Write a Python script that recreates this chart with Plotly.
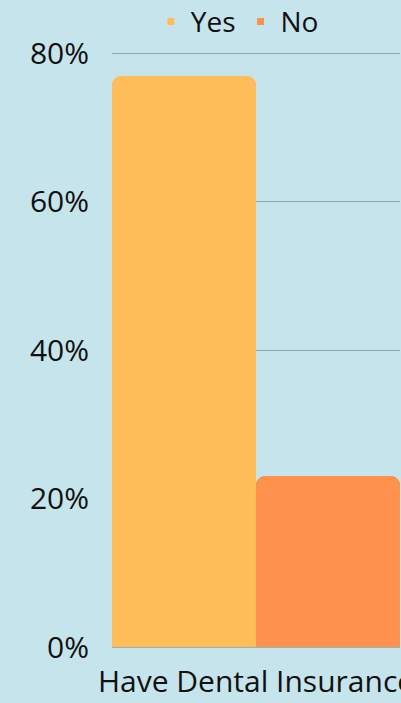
import plotly.graph_objects as go

categories = ["Have Dental Insurance"]
series_names = ["Yes", "No"]
yes_values = [77]
no_values = [23]
colors = ["#FFBD59", "#FF914D"]
y_tickvals = [0, 20, 40, 60, 80]
y_ticktext = ["0%", "20%", "40%", "60%", "80%"]

FONT = "Open Sans"
fig = go.Figure()
for name, vals, col in zip(series_names, [yes_values, no_values], colors):
    fig.add_trace(go.Bar(x=categories, y=vals, name=name, marker_color=col,
                         marker_line_width=0, showlegend=False))
    fig.add_trace(go.Scatter(x=[None], y=[None], mode="markers", name=name,
                             marker=dict(symbol="square", size=7, color=col)))

fig.update_layout(
    width=401, height=703,
    paper_bgcolor="#C6E4EC", plot_bgcolor="#C6E4EC",
    margin=dict(l=112, r=1, t=46, b=56, autoexpand=False),
    barmode="group", bargap=0, bargroupgap=0, barcornerradius=9,
    font=dict(family=FONT, color="#111111", size=30),
    legend=dict(orientation="h", x=0.435, xanchor="center", y=0.969, yanchor="middle",
                yref="container", font=dict(size=28),
                bgcolor="rgba(0,0,0,0)", traceorder="normal"),
    xaxis=dict(showgrid=False, showline=True, linecolor="#9DAFB3", linewidth=1,
               ticks="", tickfont=dict(size=30), ticklabelstandoff=8, automargin=False),
    yaxis=dict(range=[0, 81], tickvals=y_tickvals, ticktext=y_ticktext,
               showgrid=True, gridcolor="#8FA8AF", gridwidth=1, zeroline=False,
               ticks="", ticklabelstandoff=22, tickfont=dict(size=30), automargin=False),
)
fig.write_html("out.html", config={"displayModeBar": False},
               post_script="document.body.style.margin='0';document.body.style.overflow='hidden';")
